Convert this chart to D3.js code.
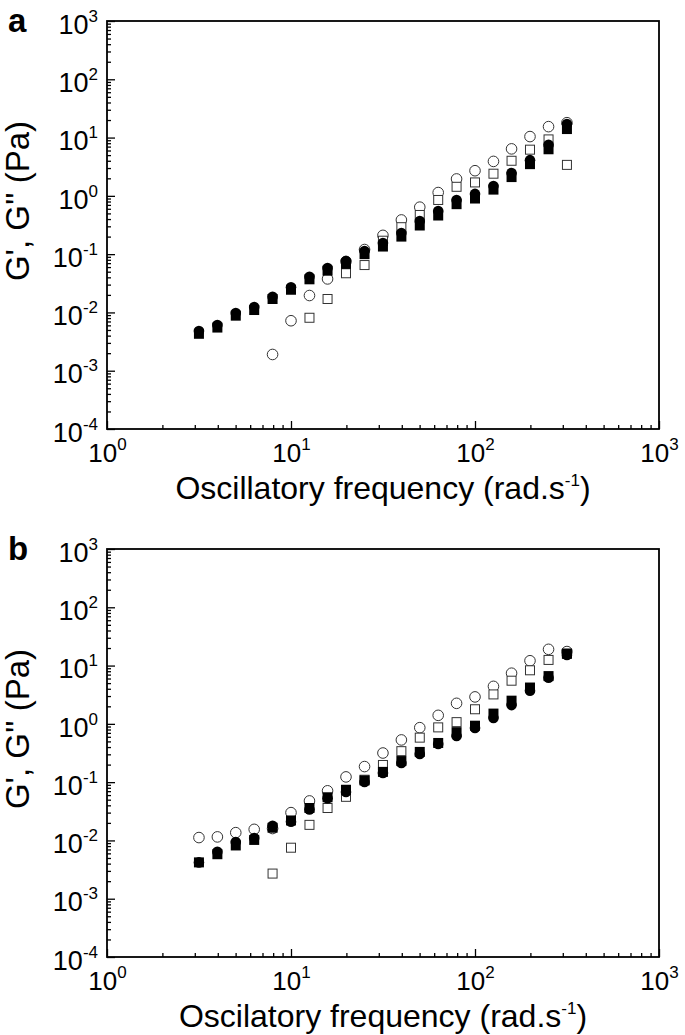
<html>
<head>
<style>
  body { margin: 0; background: #fff; }
  text { font-family: "Liberation Sans", Arial, sans-serif; }
</style>
</head>
<body>
<div id="chart"></div>
<script src="https://cdn.jsdelivr.net/npm/d3@7"></script>
<script>
// oscillatory frequency (rad/s), same for both panels
var freq = [3.16, 3.98, 5.01, 6.31, 7.94, 10, 12.6, 15.8, 19.9, 25.1, 31.6, 39.8, 50.1, 63.1, 79.4, 100, 126, 158, 199, 251, 316]

// panel a
var aOpenCircle = [null, null, null, null, 0.0019, 0.0072, 0.0195, 0.0376, 0.075, 0.12, 0.21, 0.386, 0.64, 1.14, 1.95, 2.7, 3.9, 6.4, 10.4, 15.4, 18]
var aOpenSquare = [null, null, null, null, null, null, 0.0081, 0.017, 0.047, 0.065, 0.17, 0.29, 0.47, 0.85, 1.43, 1.7, 2.4, 4.0, 6.2, 9.3, 3.4]
var aFillCircle = [0.0048, 0.0061, 0.0098, 0.0124, 0.0185, 0.027, 0.041, 0.058, 0.076, 0.113, 0.155, 0.23, 0.37, 0.55, 0.85, 1.08, 1.48, 2.47, 4.1, 7.5, 17.1]
var aFillSquare = [0.0043, 0.0055, 0.0088, 0.011, 0.017, 0.0245, 0.037, 0.052, 0.068, 0.1, 0.135, 0.2, 0.31, 0.46, 0.72, 0.9, 1.28, 2.1, 3.5, 6.3, 14]

// panel b
var bOpenCircle = [0.0112, 0.0115, 0.0136, 0.0155, 0.016, 0.030, 0.0476, 0.071, 0.123, 0.185, 0.316, 0.53, 0.86, 1.40, 2.25, 2.9, 4.4, 7.4, 12.1, 19, 17.4]
var bOpenSquare = [null, null, null, null, 0.0027, 0.0075, 0.0185, 0.036, 0.056, 0.11, 0.197, 0.34, 0.58, 0.87, 1.07, 1.78, 3.2, 5.5, 8.3, 12.5, 16]
var bFillCircle = [0.0042, 0.0064, 0.0094, 0.011, 0.0178, 0.0209, 0.034, 0.053, 0.068, 0.101, 0.144, 0.214, 0.305, 0.45, 0.62, 0.85, 1.26, 2.1, 3.7, 6.2, 15.2]
var bFillSquare = [0.0042, 0.0058, 0.0082, 0.0102, 0.0165, 0.022, 0.036, 0.055, 0.074, 0.107, 0.15, 0.23, 0.33, 0.47, 0.72, 0.93, 1.5, 2.5, 4.2, 6.6, 16]

var xMajor = [1, 10, 100, 1000]
var yMajor = [1e-4, 1e-3, 1e-2, 1e-1, 1, 10, 100, 1000]

var panels = [
  {label: "a", xTitle: "Oscillatory frequency (rad.s", top: 21,
   oc: aOpenCircle, os: aOpenSquare, fc: aFillCircle, fs: aFillSquare},
  {label: "b", xTitle: "Oscilatory frequency (rad.s", top: 549,
   oc: bOpenCircle, os: bOpenSquare, fc: bFillCircle, fs: bFillSquare}
]

var W = 685, H = 1035
var left = 107, right = 659, ph = 408

var svg = d3.select("#chart").append("svg")
  .attr("width", W).attr("height", H)

// minor tick values for log axes
function minors(lo, hi) {
  var out = []
  for (var e = lo; e < hi; e++)
    for (var k = 2; k <= 9; k++) out.push(k * Math.pow(10, e))
  return out
}

function expLabel(sel) {
  sel.each(function(d) {
    var t = d3.select(this)
    var e = Math.round(Math.log10(d))
    t.text("10")
    t.append("tspan").attr("dy", "-12").attr("font-size", "17px").text(e)
  })
}

panels.forEach(function(p) {
  var x = d3.scaleLog().domain([1, 1000]).range([left, right])
  var y = d3.scaleLog().domain([1e-4, 1e3]).range([p.top + ph, p.top])
  var g = svg.append("g")

  // x axis: minor then major, ticks pointing inward
  g.append("g").attr("transform", "translate(0," + (p.top + ph) + ")")
    .call(d3.axisBottom(x).tickValues(minors(0, 3)).tickSizeInner(-4).tickSizeOuter(0).tickFormat(""))
  var xa = g.append("g").attr("transform", "translate(0," + (p.top + ph) + ")")
    .call(d3.axisBottom(x).tickValues(xMajor).tickSizeInner(-8).tickSizeOuter(0).tickPadding(12))
  xa.selectAll(".tick text").attr("font-size", "26px").attr("dy", "0.8em").call(expLabel)

  g.append("g").attr("transform", "translate(" + left + ",0)")
    .call(d3.axisLeft(y).tickValues(minors(-4, 3)).tickSizeInner(-4).tickSizeOuter(0).tickFormat(""))
  var ya = g.append("g").attr("transform", "translate(" + left + ",0)")
    .call(d3.axisLeft(y).tickValues(yMajor).tickSizeInner(-8).tickSizeOuter(0).tickPadding(9))
  ya.selectAll(".tick text").attr("font-size", "27px").attr("dy", "0.45em").call(expLabel)

  g.selectAll(".domain").remove()
  g.selectAll(".tick line").attr("stroke", "#000").attr("stroke-width", 1.3)
  g.selectAll(".tick text").attr("fill", "#000").attr("font-family", "Liberation Sans, Arial, sans-serif")

  // frame
  g.append("rect").attr("x", left).attr("y", p.top)
    .attr("width", right - left).attr("height", ph)
    .attr("fill", "none").attr("stroke", "#000").attr("stroke-width", 1.8)

  function pts(vals) {
    return freq.map(function(f, i) { return {f: f, v: vals[i]} }).filter(function(d) { return d.v != null })
  }

  // open circles
  g.append("g").selectAll("circle").data(pts(p.oc)).enter().append("circle")
    .attr("cx", d => x(d.f)).attr("cy", d => y(d.v)).attr("r", 5.3)
    .attr("fill", "#fff").attr("stroke", "#333").attr("stroke-width", 1)
  // open squares
  g.append("g").selectAll("rect").data(pts(p.os)).enter().append("rect")
    .attr("x", d => x(d.f) - 4.5).attr("y", d => y(d.v) - 4.5).attr("width", 9).attr("height", 9)
    .attr("fill", "#fff").attr("stroke", "#333").attr("stroke-width", 1)
  // filled squares
  g.append("g").selectAll("rect").data(pts(p.fs)).enter().append("rect")
    .attr("x", d => x(d.f) - 5).attr("y", d => y(d.v) - 5).attr("width", 10).attr("height", 10)
    .attr("fill", "#000")
  // filled circles
  g.append("g").selectAll("circle").data(pts(p.fc)).enter().append("circle")
    .attr("cx", d => x(d.f)).attr("cy", d => y(d.v)).attr("r", 5.3)
    .attr("fill", "#000")

  // titles
  var xt = g.append("text").attr("x", (left + right) / 2).attr("y", p.top + ph + 70)
    .attr("text-anchor", "middle").attr("font-size", "32px").text(p.xTitle)
  xt.append("tspan").attr("dy", "-13").attr("font-size", "17px").text("-1")
  xt.append("tspan").attr("dy", "13").text(")")

  g.append("text")
    .attr("transform", "translate(29," + (p.top + ph / 2 - 24) + ") rotate(-90)")
    .attr("text-anchor", "middle").attr("font-size", "33px").text("G', G'' (Pa)")

  g.append("text").attr("x", 8).attr("y", p.top + 11)
    .attr("font-size", "33px").attr("font-weight", "bold").text(p.label)
})
</script>
</body>
</html>
